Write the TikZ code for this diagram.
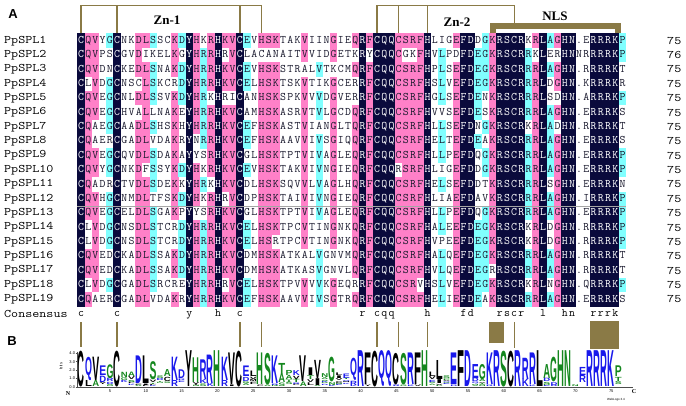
\documentclass[tikz,border=0pt]{standalone}
\usepackage{fontspec}
\usepackage{graphicx}
\setsansfont{Liberation Sans}
\newfontfamily\labelfont{Liberation Serif}
\usetikzlibrary{positioning}

\definecolor{alnnavy}{RGB}{10,10,60}
\definecolor{alnpink}{RGB}{255,128,200}
\definecolor{alncyan}{RGB}{128,255,255}
\definecolor{alnink}{RGB}{25,25,45}
\definecolor{olivebar}{RGB}{138,122,70}
\definecolor{logoblue}{RGB}{25,25,235}
\definecolor{logogreen}{RGB}{20,135,30}
\definecolor{logoblack}{RGB}{0,0,0}

\newcommand\alnfont{\ttfamily\fontsize{11.5}{12}\selectfont}

\ExplSyntaxOn
\int_new:N \g_aln_rows_int
\int_new:N \l_aln_count_int
\int_new:N \l_aln_n_int
\fp_new:N \l_aln_h_fp
\fp_new:N \l_aln_bits_fp
\fp_new:N \l_aln_base_fp
\tl_new:N \l_aln_stack_tl
\tl_const:Nn \c_aln_alphabet_tl {ACDEFGHIKLMNPQRSTVWY}
\cs_generate_variant:Nn \str_item:Nn {c}
\cs_generate_variant:Nn \str_gset:Nn {c}
\cs_new:Npn \aln_char:nn #1#2 { \str_item:cn {g_aln_res_#1_str} {#2} }

\clist_map_inline:nn {R,K,D,E,Q} { \colorlet{logo#1}{logoblue} }
\clist_map_inline:nn {S,G,H,T,A,P,N} { \colorlet{logo#1}{logogreen} }
\clist_map_inline:nn {Y,V,M,C,L,F,I,W} { \colorlet{logo#1}{logoblack} }

\NewDocumentCommand \AddSeq {mm}
 {
   \int_gincr:N \g_aln_rows_int
   \str_new:c {g_aln_res_\int_use:N \g_aln_rows_int _str}
   \str_gset:cn {g_aln_res_\int_use:N \g_aln_rows_int _str} {#1}
   \tl_gset:cn {g_aln_len_\int_use:N \g_aln_rows_int _tl} {#2}
 }
\NewExpandableDocumentCommand \AlnLen {m} { \tl_use:c {g_aln_len_#1_tl} }

% residue of a cell and how many rows share it in that column
\NewDocumentCommand \AlnCell {mm}
 {
   \tl_set:Nx \AlnRes { \aln_char:nn {#1} {#2} }
   \tl_set:Nx \AlnLower { \str_lowercase:f { \AlnRes } }
   \int_zero:N \l_aln_count_int
   \str_if_eq:eeF { \AlnRes } { . }
    {
      \int_step_inline:nn { \g_aln_rows_int }
       {
         \str_if_eq:eeT { \aln_char:nn {##1} {#2} } { \AlnRes }
          { \int_incr:N \l_aln_count_int }
       }
    }
   \tl_set:Nx \AlnCount { \int_use:N \l_aln_count_int }
 }

% letter stack of one logo column: letter/bottom/height
\NewDocumentCommand \AlnColumn {m}
 {
   \int_zero:N \l_aln_n_int
   \tl_map_inline:Nn \c_aln_alphabet_tl
    {
      \int_zero_new:c {l_aln_cnt_##1_int}
      \int_step_inline:nn {\g_aln_rows_int}
       {
         \str_if_eq:eeT { \aln_char:nn {####1} {#1} } {##1}
          { \int_incr:c {l_aln_cnt_##1_int} }
       }
      \int_add:Nn \l_aln_n_int { \int_use:c {l_aln_cnt_##1_int} }
    }
   \fp_zero:N \l_aln_h_fp
   \tl_map_inline:Nn \c_aln_alphabet_tl
    {
      \int_compare:nNnT { \int_use:c {l_aln_cnt_##1_int} } > 0
       {
         \fp_sub:Nn \l_aln_h_fp
          { \int_use:c {l_aln_cnt_##1_int} / \l_aln_n_int
            * ln ( \int_use:c {l_aln_cnt_##1_int} / \l_aln_n_int ) / ln(2) }
       }
    }
   \fp_set:Nn \l_aln_bits_fp
    { ( ln(20)/ln(2) - \l_aln_h_fp ) * \l_aln_n_int / \g_aln_rows_int }
   \fp_zero:N \l_aln_base_fp
   \tl_clear:N \l_aln_stack_tl
   \int_step_inline:nn {\g_aln_rows_int}
    {
      \tl_map_inline:Nn \c_aln_alphabet_tl
       {
         \int_compare:nNnT { \int_use:c {l_aln_cnt_####1_int} } = {##1}
          {
            \tl_put_right:Nx \l_aln_stack_tl
             {
               \tl_if_empty:NF \l_aln_stack_tl {,}
               ####1 / \fp_eval:n { round(\l_aln_base_fp,3) } /
               \fp_eval:n { round(##1 / \l_aln_n_int * \l_aln_bits_fp * 8.35 - 0.25, 3) }
             }
            \fp_add:Nn \l_aln_base_fp { ##1 / \l_aln_n_int * \l_aln_bits_fp * 8.35 }
          }
       }
    }
   \tl_set_eq:NN \AlnStack \l_aln_stack_tl
 }
\ExplSyntaxOff

\AddSeq{CQVYGCNKDLSSCKDYHKRHKVCEVHSKTAKVIINGIEQRFCQQCSRFHLIGEFDDGKRSCRKRLAGHN.ERRRKP}{75}
\AddSeq{CQVPSCGVDIKELKGYHRRHRVCLACANAITVVIDGETKRYCQQCGKFHVLPDFDEGKRSCRRKLERHNNRRRRKP}{76}
\AddSeq{CQVDNCKEDLSNAKDYHRRHKVCEVHSKSTRALVTKCMQRFCQQCSRFHPLSEFDEGKRSCRRRLAGHN.RRRRKT}{75}
\AddSeq{CLVDGCNSCLSKCRDYHRRHKVCELHSKTSKVTIKGCERRFCQQCSRFHSLVEFDEGKRSCRRRLDGHN.KRRRKR}{75}
\AddSeq{CQVEGCNLDLSSVKDYHRKHRICANHSKSPKVVVDGVERRFCQQCSRFHGLSEFDENKRSCRRRLSDHN.ARRRKP}{75}
\AddSeq{CQVEGCHVALLNAKEYHRRHKVCAMHSKASRVTVLGCDQRFCQQCSRFHVVSEFDESKRSCRRRLAGHN.ERRRKS}{75}
\AddSeq{CQAEGCAADLSHSKHYHRRHKVCEFHSKASTVIANGLTQRFCQQCSRFHLLSEFDNGKRSCRKRLADHN.RRRRKT}{75}
\AddSeq{CQAERCGADLVDAKRYNRRHKVCEFHSKAAVVIVSGIQQRFCQQCSRFHELTEFDEAKRSCRRRLAGHN.ERRRKS}{75}
\AddSeq{CQVEGCQVDLSDAKAYYSRHKVCGLHSKTPTVIVAGLEQRFCQQCSRFHLLPEFDQGKRSCRRRLAGHN.ERRRKP}{75}
\AddSeq{CQVYGCNKDFSSYKDYHKRHKVCEVHSKTAKVIVNGIEQRFCQQRSRFHLIGEFDDGKRSCRRRLAGHN.ERRRKP}{75}
\AddSeq{CQADRCTVDLSDEKKYHRKHKVCDLHSKSQVVLVAGLHQRFCQQCSRFHELSEFDDTKRSCRRRLSGHN.ERRRKN}{75}
\AddSeq{CQVHGCNMDLTFSKDYHKRHRVCDPHSKTAIVIVNGIEQRFCQQCSRFHLIAEFDAVKRSCRRRLAGHN.IRRRKP}{75}
\AddSeq{CQVEGCELDLSGAKPYYSRHKVCGLHSKTPTVIVAGLEQRFCQQCSRFHLLPEFDQGKRSCRRRLAGHN.ERRRKP}{75}
\AddSeq{CLVDGCNSDLSTCRDYHRRHKVCELHSKTPCVTINGNKQRFCQQCSRFHALEEFDEGKRSCRKRLDGHN.RRRRKP}{75}
\AddSeq{CLVDGCNSDLSTCRDYHRRHKVCELHSRTPCVTINGNKQRFCQQCSRFHVPEEFDEGKRSCRKRLDGHN.RRRRKP}{75}
\AddSeq{CQVEDCKADLSSAKDYHRRHKVCDMHSKATKALVGNVMQRFCQQCSRFHALQEFDEGKRSCRRRLAGHN.RRRRKT}{75}
\AddSeq{CQVEDCKADLSSAKDYHRRHKVCDMHSKATKASVGNVLQRFCQQCSRFHVLQEFDEGRRSCRRRLAGHN.RRRRKT}{75}
\AddSeq{CLVDGCGADLSRCREYHRRHRVCELHSKTPVVVVKGEQRRFCQQCSRVHSLVEFDEGKRSCRKRLNGHN.QRRRKP}{75}
\AddSeq{CQAERCGADLVDAKRYHRRHKVCEFHSKAAVVIVSGTRQRFCQQCSRFHELIEFDEAKRSCRRRLAGHN.ERRRKS}{75}

\tikzset{
  cell/.style={minimum width=7.32pt,minimum height=14.5pt,inner sep=0pt,
    text height=7.2pt,text depth=1.8pt,font=\alnfont,text=alnink},
  cell navy/.style={fill=alnnavy,text=white},
  cell pink/.style={fill=alnpink},
  cell cyan/.style={fill=alncyan},
  cell none/.style={},
  seqname/.style={anchor=west,inner sep=0pt,font=\alnfont,text=black},
  conschar/.style={inner sep=0pt,text height=7.2pt,text depth=1.8pt,font=\alnfont,text=black},
  bracket/.style={draw=olivebar,line width=1.4pt},
  nlsbar/.style={draw=olivebar,line width=6pt},
  zonelabel/.style={inner sep=0pt,font=\labelfont\bfseries\fontsize{13}{13}\selectfont},
  panellabel/.style={inner sep=0pt,font=\sffamily\bfseries\fontsize{13}{13}\selectfont},
  logoletter/.style={anchor=south,inner sep=0pt,outer sep=0pt,font=\sffamily\bfseries},
  logoaxis/.style={draw=black!70,line width=0.4pt},
  ticklabel/.style={inner sep=0pt,font=\sffamily\fontsize{4}{4}\selectfont},
  endlabel/.style={inner sep=0pt,font=\labelfont\bfseries\fontsize{6}{6}\selectfont}
}

\begin{document}
\begin{tikzpicture}[x=1pt,y=-1pt]
\useasboundingbox (0,0) rectangle (686,405);

\foreach \nrow in {1,...,19}{
  \node[seqname] (name\nrow) at (4,{40.7+(\nrow-1)*14.37}) {\scalebox{1.19}[1]{PpSPL\nrow}};
  \node[seqname] (len\nrow) at (667,{40.7+(\nrow-1)*14.37}) {\scalebox{1.19}[1]{\AlnLen{\nrow}}};
  \foreach \ncol in {1,...,76}{
    \AlnCell{\nrow}{\ncol}
    \ifnum\AlnCount=19 \def\cellkind{navy}\else
     \ifnum\AlnCount>14 \def\cellkind{pink}\else
      \ifnum\AlnCount>9 \def\cellkind{cyan}\else \def\cellkind{none}\fi\fi\fi
    \node[cell,cell \cellkind] (r\nrow-\ncol) at ({81+(\ncol-1)*7.22},{40.7+(\nrow-1)*14.37}) {\AlnRes};
  }
}
\draw[black!35,line width=0.4pt] (r12-1.south west) -- (r12-76.south east);

\node[seqname] (cons) at (4,314) {\scalebox{1.19}[1]{Consensus}};
\foreach \ncol in {1,...,76}{
  \AlnCell{1}{\ncol}
  \ifnum\AlnCount=19
    \node[conschar] (cons\ncol) at (r19-\ncol |- cons) {\AlnLower};
  \fi
}

\node[panellabel] (pa) at (13,14) {A};
\node[panellabel] (pb) at (12,341) {B};
\node[zonelabel] (zn1) at (167,20) {Zn-1};
\node[zonelabel] (zn2) at (457,22) {Zn-2};
\node[zonelabel] (nls) at (555,16) {NLS};

\coordinate (topline) at (0,5.7);
\coordinate (nlsline) at (0,25.5);
\coordinate (nlsright) at ([xshift=2.6pt]r1-75.north);
\draw[bracket] (r1-1.north) -- (r1-1.north |- topline) -- (r1-26.north |- topline) -- (r1-26.north);
\foreach \k in {6,23,45,49}{\draw[bracket] (r1-\k.north) -- (r1-\k.north |- topline);}
\draw[bracket] (r1-42.north) -- (r1-42.north |- topline) -- (r1-61.north |- topline) -- (r1-61.north |- nlsline);
\draw[nlsbar] (r1-58.north) -- (r1-58.north |- nlsline) -- (nlsright |- nlsline) -- (nlsright);

\coordinate (botstart) at (0,322);
\coordinate (botend) at (0,347);
\foreach \k in {1,6,23,26,42,45,49}{\draw[bracket] (r19-\k |- botstart) -- (r19-\k |- botend);}
\draw[bracket] (r19-61 |- botstart) -- (r19-61 |- 0,348);
\fill[olivebar] (r19-58.west |- 0,322) rectangle (r19-59.east |- 0,343);
\fill[olivebar] (r19-72.west |- 0,321) rectangle (r19-75.east |- 0,349);

\foreach \ncol in {1,...,76}{
  \AlnColumn{\ncol}
  \foreach \lt/\lb/\lh in \AlnStack{
    \ifdim\lh pt>0.9pt
      \node[logoletter,text=logo\lt] (logo\ncol-\lt) at ({81.4+(\ncol-1)*7.16},{386.7-\lb}) {\resizebox*{6.9pt}{\lh pt}{\lt}};
    \fi
  }
}
\draw[logoaxis] (77,351.5) -- (77,386.7) -- (633,386.7);
\foreach \b in {0,...,4}{
  \draw[logoaxis] (75.5,{386.7-\b*8.35}) -- (77,{386.7-\b*8.35});
  \node[ticklabel,anchor=east] at (75.2,{386.7-\b*8.35}) {\b.0};
}
\node[ticklabel,rotate=90] (bits) at (61,366) {bits};
\foreach \p in {5,10,...,75}{\node[ticklabel] at ({81.4+(\p-1)*7.16},391.5) {\p};}
\node[endlabel] (nterm) at (68,394) {N};
\node[endlabel] (cterm) at (634,392) {C};
\node[ticklabel,font=\sffamily\fontsize{3}{3}\selectfont] (weblogo) at (616,399.5) {WebLogo 3.4};
\end{tikzpicture}
\end{document}
